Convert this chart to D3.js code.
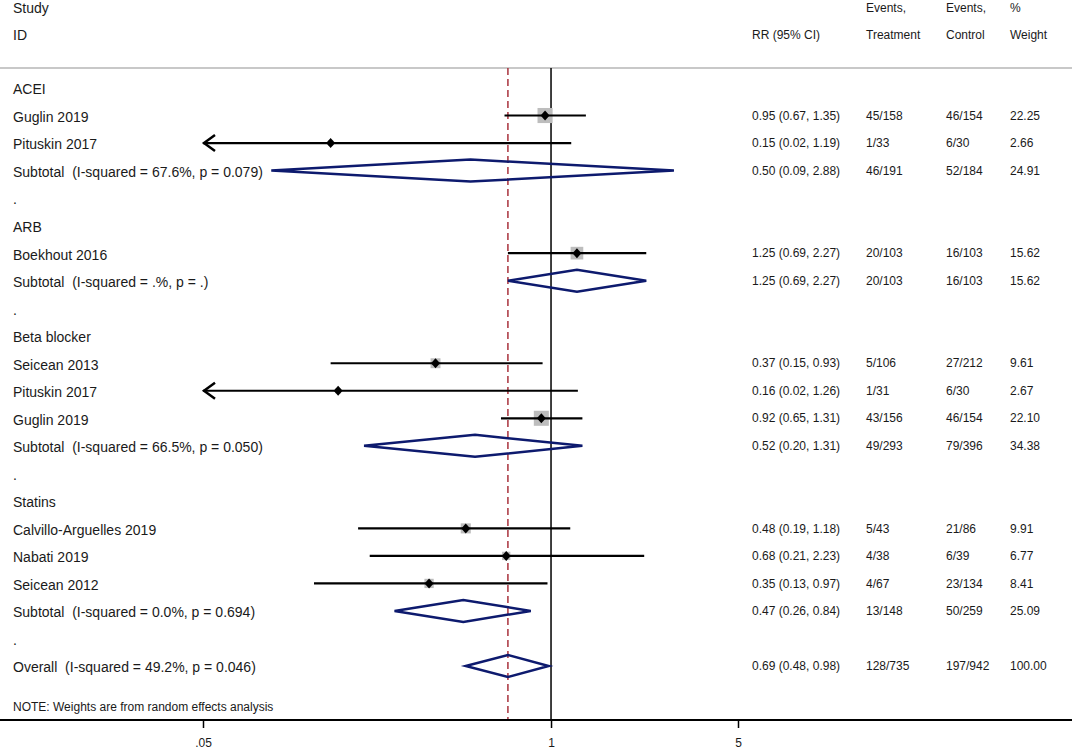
<!DOCTYPE html>
<html>
<head>
<meta charset="utf-8">
<script src="https://cdn.jsdelivr.net/npm/d3@7"></script>
<style>
  body { margin: 0; background: #fff; }
  text { font-family: "Liberation Sans", Arial, sans-serif; font-size: 12px; fill: #1a1a1a; white-space: pre; }
  text.big { font-size: 14px; }
</style>
</head>
<body>
<div id="chart"></div>
<script>
// rows, top to bottom
const labels = ["ACEI", "Guglin 2019", "Pituskin 2017", "Subtotal  (I-squared = 67.6%, p = 0.079)", ".",
  "ARB", "Boekhout 2016", "Subtotal  (I-squared = .%, p = .)", ".",
  "Beta blocker", "Seicean 2013", "Pituskin 2017", "Guglin 2019", "Subtotal  (I-squared = 66.5%, p = 0.050)", ".",
  "Statins", "Calvillo-Arguelles 2019", "Nabati 2019", "Seicean 2012", "Subtotal  (I-squared = 0.0%, p = 0.694)", ".",
  "Overall  (I-squared = 49.2%, p = 0.046)"];
const kinds = ["head", "study", "study", "sub", "dot",
  "head", "study", "sub", "dot",
  "head", "study", "study", "study", "sub", "dot",
  "head", "study", "study", "study", "sub", "dot",
  "sub"];
const rr = [null, 0.95, 0.15, 0.50, null, null, 1.25, 1.25, null, null, 0.37, 0.16, 0.92, 0.52, null, null, 0.48, 0.68, 0.35, 0.47, null, 0.69];
const lo = [null, 0.67, 0.02, 0.09, null, null, 0.69, 0.69, null, null, 0.15, 0.02, 0.65, 0.20, null, null, 0.19, 0.21, 0.13, 0.26, null, 0.48];
const hi = [null, 1.35, 1.19, 2.88, null, null, 2.27, 2.27, null, null, 0.93, 1.26, 1.31, 1.31, null, null, 1.18, 2.23, 0.97, 0.84, null, 0.98];
const eventsT = [null, "45/158", "1/33", "46/191", null, null, "20/103", "20/103", null, null, "5/106", "1/31", "43/156", "49/293", null, null, "5/43", "4/38", "4/67", "13/148", null, "128/735"];
const eventsC = [null, "46/154", "6/30", "52/184", null, null, "16/103", "16/103", null, null, "27/212", "6/30", "46/154", "79/396", null, null, "21/86", "6/39", "23/134", "50/259", null, "197/942"];
const weights = [null, 22.25, 2.66, 24.91, null, null, 15.62, 15.62, null, null, 9.61, 2.67, 22.10, 34.38, null, null, 9.91, 6.77, 8.41, 25.09, null, 100.00];
const ticks = [0.05, 1, 5];
const tickLabels = [".05", "1", "5"];
const overallRR = 0.69;

const W = 1072, H = 749;
const svg = d3.select("#chart").append("svg").attr("width", W).attr("height", H);

const x = d3.scaleLog().domain([0.05, 5]).range([203, 738]);
const y = d3.scaleLinear().domain([0, labels.length - 1]).range([88, 666]);
const topY = 68, axisY = 720;
const fmt = d3.format(".2f");

// header
const hdr = [["Study", 13, 8, "big"], ["ID", 13, 35, "big"], ["RR (95% CI)", 752, 35, ""], ["Events,", 866, 8, ""],
  ["Treatment", 866, 35, ""], ["Events,", 946, 8, ""], ["Control", 946, 35, ""], ["%", 1010, 8, ""], ["Weight", 1010, 35, ""]];
svg.selectAll(".hdr").data(hdr).enter().append("text")
  .attr("class", d => d[3]).attr("x", d => d[1]).attr("y", d => d[2]).attr("dy", "0.35em").text(d => d[0]);

svg.append("line").attr("x1", 0).attr("x2", W).attr("y1", topY).attr("y2", topY)
  .attr("stroke", "#c8c8c8").attr("stroke-width", 2);

// reference lines
svg.append("line").attr("x1", x(1)).attr("x2", x(1)).attr("y1", topY).attr("y2", axisY)
  .attr("stroke", "#000").attr("stroke-width", 1.5);
svg.append("line").attr("x1", x(overallRR)).attr("x2", x(overallRR)).attr("y1", topY).attr("y2", axisY)
  .attr("stroke", "#a8323c").attr("stroke-width", 1.5).attr("stroke-dasharray", "7,4");

const rows = labels.map((l, i) => ({ i, label: l, kind: kinds[i], rr: rr[i], lo: lo[i], hi: hi[i],
  et: eventsT[i], ec: eventsC[i], w: weights[i] }));

// left labels
svg.selectAll(".lab").data(rows).enter().append("text")
  .attr("class", "big").attr("x", 13).attr("y", d => y(d.i) + 1.5).attr("dy", "0.35em").text(d => d.label);

// studies
const studies = rows.filter(d => d.kind === "study");
svg.selectAll(".box").data(studies).enter().append("rect")
  .attr("x", d => x(d.rr) - 1.6 * Math.sqrt(d.w)).attr("y", d => y(d.i) - 1.6 * Math.sqrt(d.w))
  .attr("width", d => 3.2 * Math.sqrt(d.w)).attr("height", d => 3.2 * Math.sqrt(d.w))
  .attr("fill", "#bdbdbd");
svg.selectAll(".ci").data(studies).enter().append("line")
  .attr("x1", d => x(Math.max(d.lo, 0.05))).attr("x2", d => x(Math.min(d.hi, 5)))
  .attr("y1", d => y(d.i)).attr("y2", d => y(d.i))
  .attr("stroke", "#000").attr("stroke-width", 2.2);
svg.selectAll(".arrow").data(studies.filter(d => d.lo < 0.05)).enter().append("path")
  .attr("d", d => { const x0 = x(0.05) + 1, y0 = y(d.i); return `M${x0 + 11},${y0 - 8}L${x0},${y0}L${x0 + 11},${y0 + 8}`; })
  .attr("fill", "none").attr("stroke", "#000").attr("stroke-width", 2.5);
svg.selectAll(".pt").data(studies).enter().append("path")
  .attr("d", d => { const cx = x(d.rr), cy = y(d.i); return `M${cx - 4.5},${cy}L${cx},${cy - 5}L${cx + 4.5},${cy}L${cx},${cy + 5}Z`; })
  .attr("fill", "#000");

// pooled diamonds
svg.selectAll(".dia").data(rows.filter(d => d.kind === "sub")).enter().append("path")
  .attr("d", d => { const cy = y(d.i); return `M${x(d.lo)},${cy}L${x(d.rr)},${cy - 11}L${x(d.hi)},${cy}L${x(d.rr)},${cy + 11}Z`; })
  .attr("fill", "none").attr("stroke", "#0d1a6e").attr("stroke-width", 2.5).attr("stroke-linejoin", "miter");

// right columns
const valued = rows.filter(d => d.rr !== null);
svg.selectAll(".rr").data(valued).enter().append("text")
  .attr("x", 752).attr("y", d => y(d.i)).attr("dy", "0.35em")
  .text(d => `${fmt(d.rr)} (${fmt(d.lo)}, ${fmt(d.hi)})`);
svg.selectAll(".et").data(valued).enter().append("text")
  .attr("x", 866).attr("y", d => y(d.i)).attr("dy", "0.35em").text(d => d.et);
svg.selectAll(".ec").data(valued).enter().append("text")
  .attr("x", 946).attr("y", d => y(d.i)).attr("dy", "0.35em").text(d => d.ec);
svg.selectAll(".wt").data(valued).enter().append("text")
  .attr("x", 1010).attr("y", d => y(d.i)).attr("dy", "0.35em").text(d => fmt(d.w));

svg.append("text").attr("x", 13).attr("y", 707).attr("dy", "0.35em")
  .text("NOTE: Weights are from random effects analysis");

// axis
svg.append("line").attr("x1", 0).attr("x2", W).attr("y1", axisY).attr("y2", axisY)
  .attr("stroke", "#000").attr("stroke-width", 2);
const axis = d3.axisBottom(x).tickValues(ticks).tickSize(8).tickFormat((d, i) => tickLabels[i]);
const ax = svg.append("g").attr("transform", `translate(0,${axisY})`).call(axis);
ax.select(".domain").remove();
ax.selectAll(".tick line").attr("stroke", "#000").attr("stroke-width", 1.5);
ax.selectAll(".tick text").attr("y", 18).style("font-family", "Liberation Sans, Arial, sans-serif")
  .style("font-size", "12px").attr("fill", "#1a1a1a");
</script>
</body>
</html>
